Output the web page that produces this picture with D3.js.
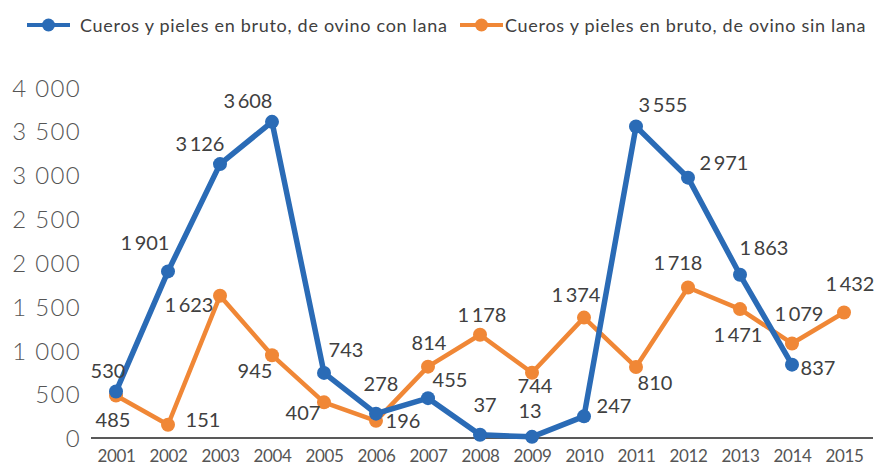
<!DOCTYPE html>
<html lang="es">
<head>
<meta charset="utf-8">
<script src="https://cdn.jsdelivr.net/npm/d3@7/dist/d3.min.js"></script>
<style>
  body { margin: 0; background: #fff; }
  text { font-family: Lato, "Open Sans", sans-serif; }
</style>
<title>Cueros y pieles en bruto de ovino</title>
</head>
<body>
<script>
var years = ["2001","2002","2003","2004","2005","2006","2007","2008","2009","2010","2011","2012","2013","2014","2015"];
var conLana = [530, 1901, 3126, 3608, 743, 278, 455, 37, 13, 247, 3555, 2971, 1863, 837];
var sinLana = [485, 151, 1623, 945, 407, 196, 814, 1178, 744, 1374, 810, 1718, 1471, 1079, 1432];
var yTicks = [0, 500, 1000, 1500, 2000, 2500, 3000, 3500, 4000];
var seriesNames = ["Cueros y pieles en bruto, de ovino con lana", "Cueros y pieles en bruto, de ovino sin lana"];

// value label nudges [dx, dy] from each point (text centre, baseline)
var conOffsets = [[-8,-14],[-23,-21],[-20,-13],[-24,-14],[22,-16],[5,-23],[22,-11],[5,-23],[-2,-19],[30,-3],[27,-14],[36,-8],[24,-20],[26,10]];
var sinOffsets = [[-3,31],[35,2],[-31,16],[-17,23],[-21,18],[27,7],[1,-17],[2,-13],[3,20],[-8,-16],[19,23],[-10,-17],[-2,33],[7,-22],[6,-22]];

var blue = "#2a6bb6", orange = "#f08736";
var w = 876, h = 467;
var svg = d3.select("body").append("svg").attr("width", w).attr("height", h);

var x = d3.scalePoint().domain(years).range([116, 844]);
var y = d3.scaleLinear().domain([0, 4000]).range([438, 87.5]);
var fmt = function(v){ return d3.format(",")(v).replace(/,/g, "\u2009"); };
var fmtTick = function(v){ return d3.format(",")(v).replace(/,/g, " "); };

// y axis labels, no axis line
var yAxis = d3.axisLeft(y).tickValues(yTicks).tickSize(0).tickPadding(0).tickFormat(fmtTick);
var gy = svg.append("g").attr("transform", "translate(81,0)").call(yAxis);
gy.select(".domain").remove();
gy.selectAll("text").attr("dy", "0.36em")
  .style("font-size", "24px").style("font-weight", 300).style("letter-spacing", "1.3px").style("fill", "#555");

// x axis
var xAxis = d3.axisBottom(x).tickSize(0).tickPadding(12);
var gx = svg.append("g").attr("transform", "translate(0,438)").call(xAxis);
gx.select(".domain").attr("d", "M91,0H873").attr("stroke", "#222").attr("stroke-width", 1.4);
gx.selectAll("text").style("font-size", "17px").style("letter-spacing", "-0.4px").style("fill", "#555");

var line = d3.line().x(function(d){ return x(d.year); }).y(function(d){ return y(d.v); });

function drawSeries(vals, offs, color, lw, r) {
  var data = vals.map(function(v, i){ return {year: years[i], v: v, o: offs[i]}; });
  svg.append("path").datum(data)
    .attr("fill", "none").attr("stroke", color).attr("stroke-width", lw)
    .attr("stroke-linejoin", "round").attr("d", line);
  svg.append("g").selectAll("circle").data(data).enter().append("circle")
    .attr("cx", function(d){ return x(d.year); })
    .attr("cy", function(d){ return y(d.v); })
    .attr("r", r).attr("fill", color);
  return data;
}

function drawLabels(data) {
  svg.append("g").selectAll("text").data(data).enter().append("text")
    .attr("x", function(d){ return x(d.year) + d.o[0]; })
    .attr("y", function(d){ return y(d.v) + d.o[1]; })
    .attr("text-anchor", "middle")
    .style("font-size", "20px").style("fill", "#404040")
    .text(function(d){ return fmt(d.v); });
}

var sinData = drawSeries(sinLana, sinOffsets, orange, 4.5, 7);
var conData = drawSeries(conLana, conOffsets, blue, 5.5, 7);
drawLabels(sinData);
drawLabels(conData);

// legend
var legend = [
  {name: seriesNames[0], color: blue, x: 27},
  {name: seriesNames[1], color: orange, x: 460}
];
var lg = svg.append("g").selectAll("g").data(legend).enter().append("g")
  .attr("transform", function(d){ return "translate(" + d.x + ",25)"; });
lg.append("line").attr("x1", 0).attr("x2", 43).attr("stroke", function(d){ return d.color; }).attr("stroke-width", 4);
lg.append("circle").attr("cx", 21.5).attr("r", 6.5).attr("fill", function(d){ return d.color; });
lg.append("text").attr("x", function(d, i){ return i === 0 ? 53 : 45; }).attr("y", 7)
  .style("font-size", "18px").style("letter-spacing", "0.7px").style("fill", "#404040")
  .text(function(d){ return d.name; });
</script>
</body>
</html>
